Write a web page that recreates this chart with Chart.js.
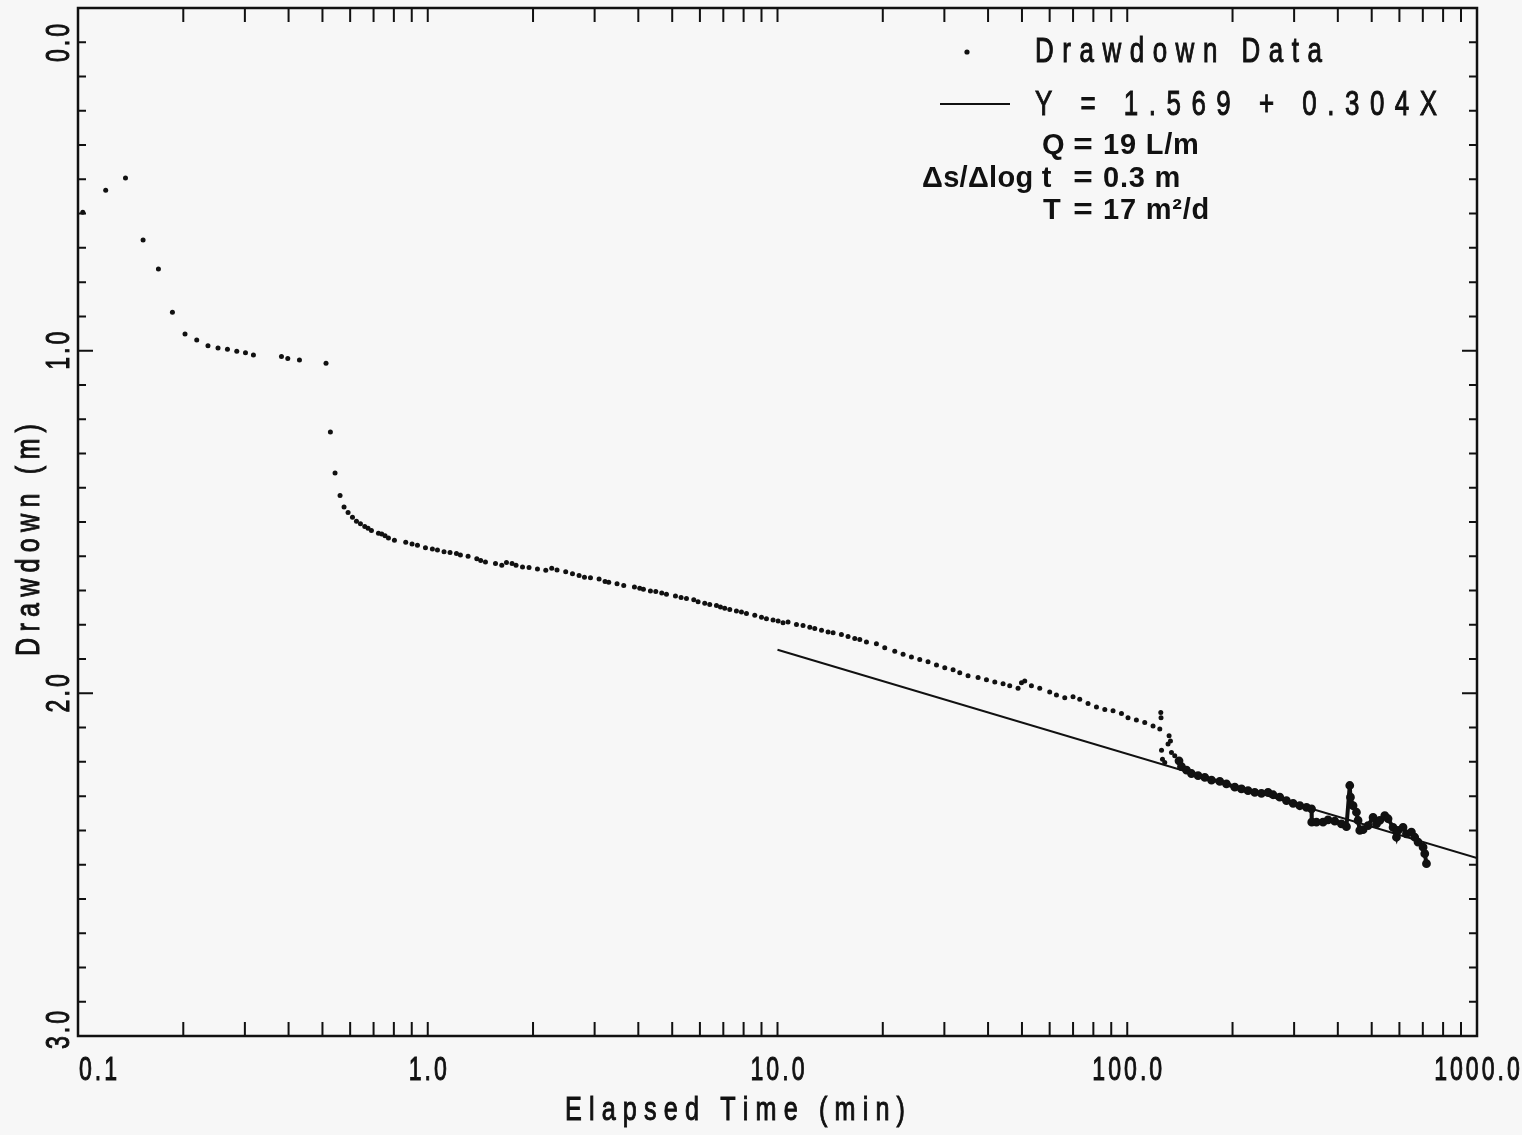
<!DOCTYPE html>
<html lang="en">
<head>
<meta charset="UTF-8" />
<title>Drawdown vs Elapsed Time</title>
<script src="https://cdn.jsdelivr.net/npm/chart.js@4"></script>
<style>
  html, body { margin: 0; padding: 0; background: #f7f7f7; }
  #wrap { width: 1522px; height: 1135px; }
  canvas { background: #f7f7f7; }
</style>
</head>
<body>
<div id="wrap"><canvas id="plot" width="1522" height="1135"></canvas></div>
<script>
// drawdown readings, elapsed time in minutes, drawdown in metres
const sparseTime = [
  0.1032, 0.120, 0.1367, 0.1535, 0.1698, 0.1862, 0.2023, 0.2185, 0.2353, 0.2514,
  0.2675, 0.2844, 0.3012, 0.3174, 0.3817, 0.3979, 0.4297, 0.5118, 0.5268, 0.5432,
  0.5614, 0.5763, 0.5918, 0.6092, 0.6254, 0.6421, 0.6605, 0.675, 0.6902, 0.7228,
  0.7387, 0.7549, 0.772, 0.803, 0.8651, 0.9018, 0.9345, 0.985, 1.031, 1.066,
  1.113, 1.158, 1.208, 1.24, 1.304, 1.381, 1.417, 1.462, 1.562, 1.628,
  1.679, 1.742, 1.788, 1.866, 1.948, 2.059, 2.175, 2.262, 2.342, 2.48,
  2.593, 2.708, 2.806, 2.919, 3.089, 3.213, 3.292, 3.477, 3.634, 3.899,
  4.037, 4.137, 4.332, 4.487, 4.667, 4.814, 5.108, 5.3, 5.492, 5.762,
  5.928, 6.194, 6.401, 6.69, 6.869, 7.066, 7.303, 7.631, 7.887, 8.151,
  8.61, 8.999, 9.299, 9.711, 10.04, 10.37, 10.72, 11.33, 11.83, 12.37,
  12.78, 13.36, 13.95, 14.42, 15.23, 15.91, 16.63, 17.19, 17.96, 19.18,
  20.26, 21.64, 22.86, 24.15, 25.51, 26.94, 28.48, 30.08, 31.77, 33.2,
  35.06, 37.45, 39.58, 41.81, 44.15, 46.13, 48.73, 49.83, 50.92, 53.21,
  56.21, 60.02, 62.74, 66.27, 69.98, 73.14, 77.25, 81.65, 86.26, 91.07,
  96.25, 100.5, 106.2, 112.2, 118.5, 123.9, 124.7, 124.9, 125.3, 126.1,
  128.0, 130.8, 131.7, 132.9, 133.8, 136.7
];
const sparseDrawdown = [
  0.596, 0.532, 0.496, 0.677, 0.762, 0.888, 0.951, 0.969, 0.986, 0.992,
  0.996, 1.002, 1.006, 1.013, 1.017, 1.023, 1.027, 1.037, 1.237, 1.357,
  1.423, 1.456, 1.472, 1.486, 1.498, 1.505, 1.513, 1.518, 1.525, 1.533,
  1.535, 1.540, 1.547, 1.553, 1.559, 1.564, 1.568, 1.575, 1.579, 1.582,
  1.587, 1.589, 1.592, 1.596, 1.600, 1.607, 1.612, 1.617, 1.621, 1.626,
  1.618, 1.621, 1.626, 1.631, 1.633, 1.637, 1.641, 1.635, 1.640, 1.645,
  1.651, 1.656, 1.661, 1.663, 1.666, 1.674, 1.676, 1.680, 1.685, 1.690,
  1.693, 1.696, 1.701, 1.703, 1.707, 1.711, 1.716, 1.720, 1.723, 1.727,
  1.733, 1.737, 1.741, 1.744, 1.748, 1.752, 1.755, 1.760, 1.763, 1.767,
  1.772, 1.778, 1.782, 1.786, 1.789, 1.794, 1.792, 1.799, 1.802, 1.807,
  1.811, 1.816, 1.821, 1.823, 1.828, 1.834, 1.840, 1.843, 1.850, 1.855,
  1.867, 1.877, 1.886, 1.894, 1.901, 1.908, 1.917, 1.925, 1.931, 1.940,
  1.949, 1.954, 1.960, 1.967, 1.972, 1.978, 1.985, 1.969, 1.964, 1.978,
  1.985, 1.996, 2.005, 2.013, 2.010, 2.017, 2.030, 2.040, 2.047, 2.051,
  2.059, 2.071, 2.078, 2.085, 2.095, 2.104, 2.056, 2.071, 2.166, 2.192,
  2.202, 2.148, 2.124, 2.139, 2.173, 2.182
];
// late readings are logged so densely they merge into a trace
const denseTime = [
  140.6, 142.9, 147.7, 152.6, 159.4, 166.6, 174.1, 183.9, 192.1, 203.0,
  212.1, 221.5, 231.5, 241.9, 252.7, 261.2, 272.9, 285.2, 298.0, 311.4,
  325.5, 336.4, 336.9, 347.5, 362.9, 375.1, 392.0, 409.7, 423.4, 432.7,
  434.7, 442.2, 452.2, 457.0, 462.2, 472.3, 488.1, 504.5, 515.9, 527.2,
  544.9, 556.8, 575.4, 588.4, 594.6, 614.5, 628.4, 649.4, 663.7, 678.3,
  701.2, 709.0, 717.0
];
const denseDrawdown = [
  2.197, 2.214, 2.224, 2.234, 2.240, 2.245, 2.253, 2.257, 2.264, 2.274,
  2.279, 2.284, 2.289, 2.292, 2.289, 2.296, 2.303, 2.313, 2.321, 2.328,
  2.333, 2.337, 2.376, 2.376, 2.376, 2.369, 2.373, 2.381, 2.389, 2.269,
  2.303, 2.328, 2.347, 2.371, 2.400, 2.398, 2.386, 2.362, 2.381, 2.371,
  2.357, 2.366, 2.391, 2.420, 2.400, 2.391, 2.410, 2.405, 2.420, 2.434,
  2.449, 2.468, 2.497
];
// straight-line fit Y = 1.569 + 0.304X
const fitTime = [10, 1000];
const fitDrawdown = [1.873, 2.481];

const xLabelValues = [0.1, 1, 10, 100, 1000];
const xLabelText = ["0.1", "1.0", "10.0", "100.0", "1000.0"];
const yLabelValues = [0, 1, 2, 3];
const yLabelText = ["0.0", "1.0", "2.0", "3.0"];

const ink = "#111111";

// minor tick positions: 1..9 per decade, and every 0.1 m
const xTickValues = [];
xLabelValues.slice(0, -1).forEach((dec) => {
  for (let m = 1; m <= 9; m++) xTickValues.push(m * dec);
});
xTickValues.push(1000);
const yTickValues = [];
for (let i = 0; i <= 30; i++) yTickValues.push(i / 10);

function pairs(xs, ys) {
  return xs.map((x, i) => ({ x: x, y: ys[i] }));
}

// draws text letter by letter, squeezed horizontally and spread out
function spaced(ctx, str, x, y, o) {
  const size = o.size || 30;
  const squeeze = o.squeeze || 0.78;
  ctx.save();
  ctx.translate(x, y);
  if (o.angle) ctx.rotate(o.angle);
  ctx.scale(squeeze, 1);
  ctx.font = (o.bold ? "bold " : "") + size + "px 'Liberation Sans', Arial, sans-serif";
  ctx.fillStyle = ink;
  ctx.strokeStyle = ink;
  ctx.lineWidth = o.weight || 0;
  ctx.textBaseline = "middle";
  ctx.textAlign = "left";
  const chars = Array.from(str);
  const natural = chars.reduce((s, ch) => s + ctx.measureText(ch).width, 0);
  let gap;
  if (o.width) gap = chars.length > 1 ? (o.width / squeeze - natural) / (chars.length - 1) : 0;
  else gap = (o.gap || 0) / squeeze;
  const total = natural + gap * (chars.length - 1);
  let pos = o.align === "left" ? 0 : -total / 2;
  chars.forEach((ch) => {
    ctx.fillText(ch, pos, 0);
    if (o.weight) ctx.strokeText(ch, pos, 0);
    pos += ctx.measureText(ch).width + gap;
  });
  ctx.restore();
}

const framePlugin = {
  id: "frame",
  afterDatasetsDraw(chart) {
    const { ctx, chartArea: a } = chart;
    const xs = chart.scales.x;
    const ys = chart.scales.y;
    ctx.save();
    ctx.strokeStyle = ink;
    ctx.lineWidth = 2.5;
    ctx.strokeRect(a.left, a.top, a.right - a.left, a.bottom - a.top);

    ctx.lineWidth = 2;
    ctx.beginPath();
    xTickValues.forEach((v) => {
      const px = xs.getPixelForValue(v);
      ctx.moveTo(px, a.bottom);
      ctx.lineTo(px, a.bottom - 14);
      ctx.moveTo(px, a.top);
      ctx.lineTo(px, a.top + 14);
    });
    yTickValues.forEach((v) => {
      const py = ys.getPixelForValue(v);
      const len = Math.abs(v - Math.round(v)) < 1e-6 ? 15 : 8;
      ctx.moveTo(a.left, py);
      ctx.lineTo(a.left + len, py);
      ctx.moveTo(a.right, py);
      ctx.lineTo(a.right - len, py);
    });
    ctx.stroke();

    // tick labels
    xLabelValues.forEach((v, i) => {
      let px = xs.getPixelForValue(v);
      px = Math.max(px, a.left + 20);
      spaced(ctx, xLabelText[i], px, 1071, { size: 34, squeeze: 0.68, gap: 3, weight: 1 });
    });
    yLabelValues.forEach((v, i) => {
      let py = ys.getPixelForValue(v);
      py = Math.min(Math.max(py, a.top + 35), a.bottom - 6);
      spaced(ctx, yLabelText[i], 60, py, { size: 34, squeeze: 0.68, gap: 3, weight: 1, angle: -Math.PI / 2 });
    });

    // axis titles
    spaced(ctx, "Elapsed Time (min)", 735, 1111, { size: 34, squeeze: 0.74, width: 340, weight: 1 });
    spaced(ctx, "Drawdown (m)", 30, 540, { size: 34, squeeze: 0.74, width: 232, weight: 1, angle: -Math.PI / 2 });

    // legend
    ctx.fillStyle = ink;
    ctx.beginPath();
    ctx.arc(967, 52, 2.6, 0, Math.PI * 2);
    ctx.fill();
    spaced(ctx, "Drawdown Data", 1035, 52, { size: 35, squeeze: 0.74, width: 287, weight: 1, align: "left" });
    ctx.lineWidth = 2;
    ctx.beginPath();
    ctx.moveTo(940, 104);
    ctx.lineTo(1010, 104);
    ctx.stroke();
    spaced(ctx, "Y = 1.569 + 0.304X", 1035, 105, { size: 35, squeeze: 0.74, width: 402, weight: 1, align: "left" });

    // test parameters
    const notes = [
      ["Q", 1042, "19 L/m", 146],
      ["\u0394s/\u0394log t", 922, "0.3 m", 179],
      ["T", 1043, "17 m\u00b2/d", 211]
    ];
    notes.forEach((n) => {
      spaced(ctx, n[0], n[1], n[3], { size: 29, squeeze: 1, bold: true, gap: 0.3, align: "left" });
      spaced(ctx, "=", 1083, n[3], { size: 29, squeeze: 1.15, bold: true });
      spaced(ctx, n[2], 1103, n[3], { size: 29, squeeze: 1, bold: true, gap: 0.8, align: "left" });
    });
    ctx.restore();
  }
};

new Chart(document.getElementById("plot"), {
  type: "scatter",
  data: {
    datasets: [
      {
        label: "Drawdown Data",
        data: pairs(sparseTime, sparseDrawdown),
        backgroundColor: ink,
        borderWidth: 0,
        pointRadius: 2.5,
        showLine: false
      },
      {
        label: "Drawdown Data (dense)",
        data: pairs(denseTime, denseDrawdown),
        backgroundColor: ink,
        borderColor: ink,
        borderWidth: 4,
        pointRadius: 2.4,
        showLine: true
      },
      {
        label: "Y = 1.569 + 0.304X",
        data: pairs(fitTime, fitDrawdown),
        borderColor: ink,
        borderWidth: 2,
        pointRadius: 0,
        showLine: true
      }
    ]
  },
  options: {
    responsive: false,
    animation: false,
    layout: { padding: { left: 78, top: 5, right: 45, bottom: 99 } },
    plugins: { legend: { display: false }, tooltip: { enabled: false } },
    scales: {
      x: { type: "logarithmic", min: 0.1, max: 1000, display: false },
      y: { type: "linear", min: 0, max: 3, reverse: true, display: false }
    }
  },
  plugins: [framePlugin]
});
</script>
</body>
</html>
